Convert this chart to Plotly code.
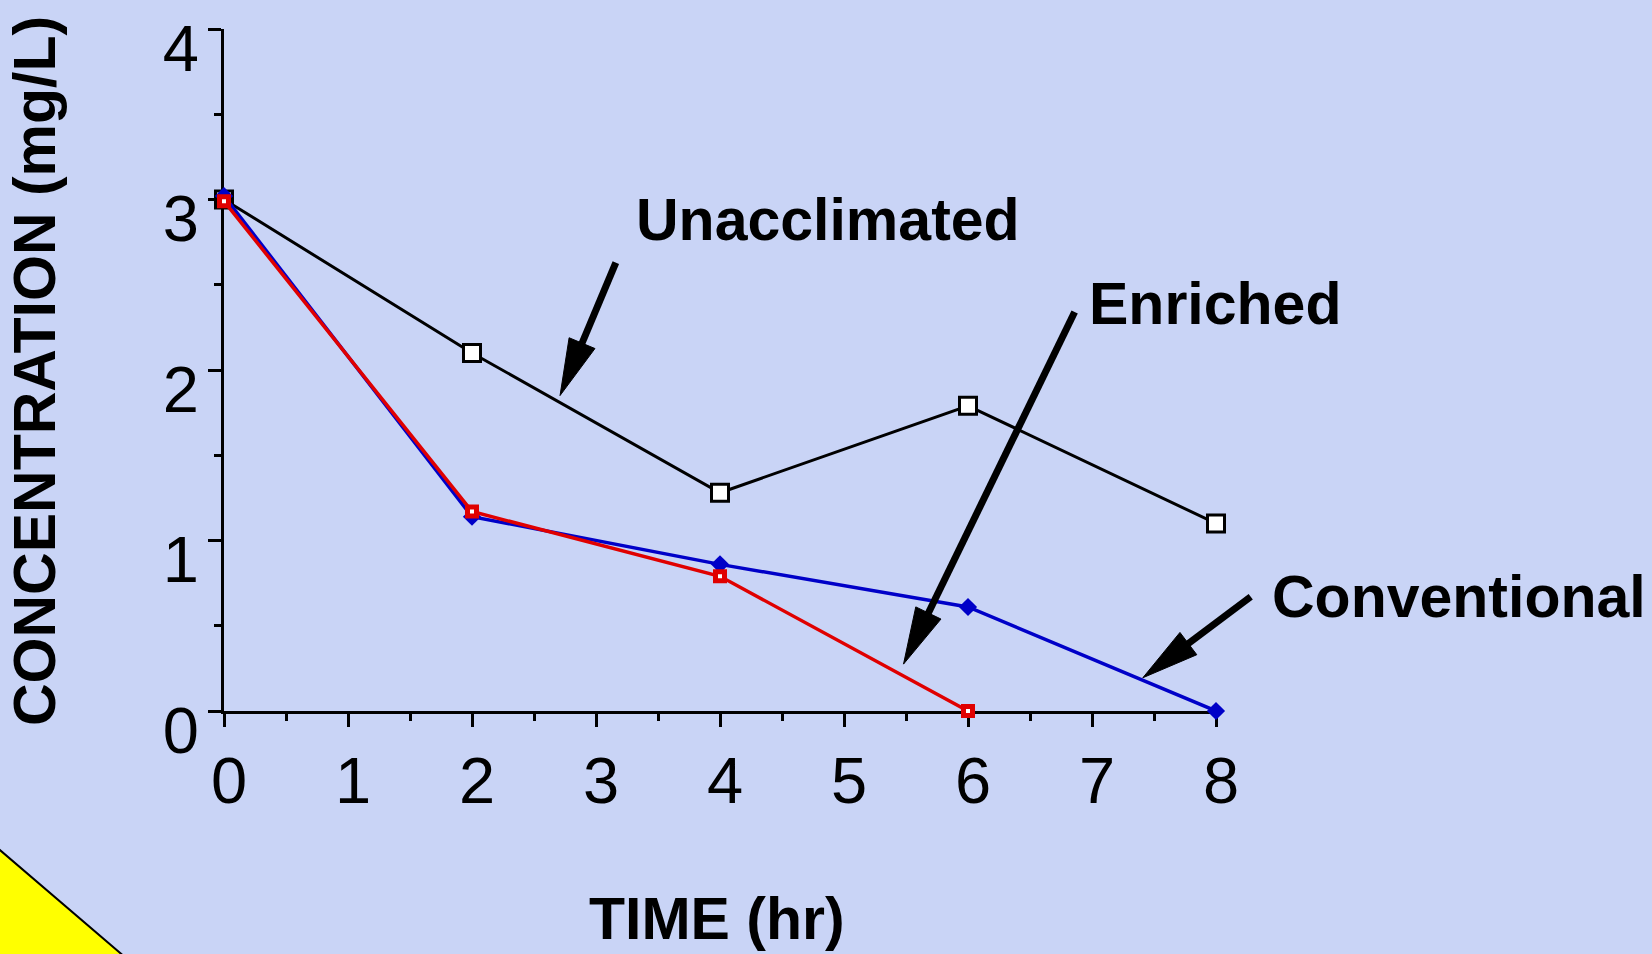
import plotly.graph_objects as go

# ---------------- data ----------------
time_unacc = [0, 2, 4, 6, 8]
conc_unacc = [3.0, 2.1, 1.28, 1.79, 1.1]

time_conv = [0, 2, 4, 6, 8]
conc_conv = [3.02, 1.14, 0.86, 0.61, 0.0]

time_enr = [0, 2, 4, 6]
conc_enr = [2.99, 1.17, 0.79, 0.0]

x_ticks = [0, 1, 2, 3, 4, 5, 6, 7, 8]
y_ticks = [0, 1, 2, 3, 4]

# annotation labels: (text, arrow tail (x,y), arrow tip (x,y)) in data units
arrow_labels = [
    ("Unacclimated", (3.16, 2.63), (2.71, 1.85)),
    ("Enriched", (6.86, 2.34), (5.48, 0.275)),
    ("Conventional", (8.28, 0.67), (7.41, 0.195)),
]

# ---------------- layout geometry ----------------
W, H = 1652, 954
L, R, T, B = 224, 436, 27, 243
PW, PH = W - L - R, H - T - B
XR, YR = (0, 8), (0, 4)
BG = "#C9D4F6"
FONT = "Liberation Sans, Arial, sans-serif"


def data_to_px(x, y):
    px = L + (x - XR[0]) / (XR[1] - XR[0]) * PW
    py = T + PH - (y - YR[0]) / (YR[1] - YR[0]) * PH
    return px, py


def px_to_paper(px, py):
    return (px - L) / PW, (T + PH - py) / PH


fig = go.Figure()

fig.add_trace(go.Scatter(
    x=time_unacc, y=conc_unacc, mode="lines+markers", name="Unacclimated",
    line=dict(color="black", width=3),
    marker=dict(symbol="square", size=17, color="white", line=dict(color="black", width=3)),
    cliponaxis=False))

fig.add_trace(go.Scatter(
    x=time_conv, y=conc_conv, mode="lines+markers", name="Conventional",
    line=dict(color="#0000C8", width=3.5),
    marker=dict(symbol="diamond", size=14, color="#0000C8"),
    cliponaxis=False))

fig.add_trace(go.Scatter(
    x=time_enr, y=conc_enr, mode="lines+markers", name="Enriched",
    line=dict(color="#E00000", width=3.5),
    marker=dict(symbol="square", size=9, color="white", line=dict(color="#E00000", width=5)),
    cliponaxis=False))

shapes = []
annotations = []

# arrows built from data-unit tail/tip, drawn in paper coords so they are not clipped
HEAD_LEN, HEAD_W, SHAFT_W = 57, 28, 7
for text, tail, tip in arrow_labels:
    tx, ty = data_to_px(*tail)
    hx, hy = data_to_px(*tip)
    dx, dy = hx - tx, hy - ty
    n = (dx * dx + dy * dy) ** 0.5
    ux, uy = dx / n, dy / n
    bx, by = hx - ux * HEAD_LEN, hy - uy * HEAD_LEN
    nx, ny = -uy, ux
    c1 = (bx + nx * HEAD_W / 2, by + ny * HEAD_W / 2)
    c2 = (bx - nx * HEAD_W / 2, by - ny * HEAD_W / 2)
    p0 = px_to_paper(tx, ty)
    p1 = px_to_paper(bx + ux * 5, by + uy * 5)
    shapes.append(dict(type="line", xref="paper", yref="paper",
                       x0=p0[0], y0=p0[1], x1=p1[0], y1=p1[1],
                       line=dict(color="black", width=SHAFT_W)))
    pts = [px_to_paper(hx, hy), px_to_paper(*c1), px_to_paper(*c2)]
    path = "M{},{} L{},{} L{},{} Z".format(*[v for p in pts for v in p])
    shapes.append(dict(type="path", xref="paper", yref="paper", path=path,
                       fillcolor="black", line=dict(color="black", width=1)))

# text label positions (left edge, cap centre) in pixels
label_pos = {"Unacclimated": (634, 219), "Enriched": (1087, 303), "Conventional": (1270, 597)}
for text, (lx, ly) in label_pos.items():
    ax, ay = px_to_paper(lx, ly)
    annotations.append(dict(text="<b>%s</b>" % text, xref="paper", yref="paper",
                            x=ax, y=ay, xanchor="left", yanchor="middle", showarrow=False,
                            font=dict(family=FONT, size=59, color="black")))

# axis titles
ax, ay = px_to_paper(717, 920)
annotations.append(dict(text="<b>TIME (hr)</b>", xref="paper", yref="paper", x=ax, y=ay,
                        xanchor="center", yanchor="middle", showarrow=False,
                        font=dict(family=FONT, size=59, color="black")))
ax, ay = px_to_paper(35, 370)
annotations.append(dict(text="<b>CONCENTRATION (mg/L)</b>", xref="paper", yref="paper", x=ax, y=ay,
                        xanchor="center", yanchor="middle", showarrow=False, textangle=-90,
                        font=dict(family=FONT, size=59, color="black")))

# yellow corner triangle
tri = [px_to_paper(-3, 848), px_to_paper(124, 957), px_to_paper(-3, 957)]
shapes.append(dict(type="path", xref="paper", yref="paper",
                   path="M{},{} L{},{} L{},{} Z".format(*[v for p in tri for v in p]),
                   fillcolor="#FFFF00", line=dict(color="black", width=2), layer="below"))

axis_common = dict(
    showline=True, linecolor="black", linewidth=3,
    ticks="outside", ticklen=13, tickwidth=3, tickcolor="black",
    showgrid=False, zeroline=False, layer="below traces",
    tickfont=dict(family=FONT, size=65, color="black"),
    minor=dict(ticks="outside", ticklen=7, tickwidth=3, tickcolor="black", dtick=0.5, showgrid=False),
)

fig.update_layout(
    width=W, height=H, autosize=False,
    margin=dict(l=L, r=R, t=T, b=B, pad=0),
    paper_bgcolor=BG, plot_bgcolor=BG,
    showlegend=False,
    shapes=shapes, annotations=annotations,
    xaxis=dict(range=list(XR), tickmode="array", tickvals=x_ticks,
               ticktext=[str(v) for v in x_ticks], ticklabelshift=5, ticklabelstandoff=-2,
               **axis_common),
    yaxis=dict(range=list(YR), tickmode="array", tickvals=y_ticks,
               ticktext=[str(v) for v in y_ticks], ticklabelshift=19, ticklabelstandoff=-4,
               **axis_common),
)

fig.write_html("out.html")
